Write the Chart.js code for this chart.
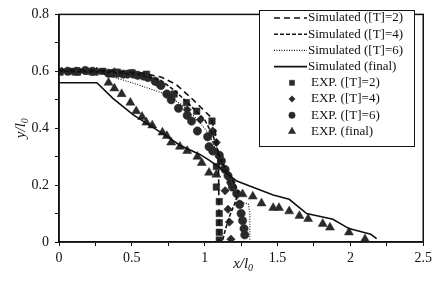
<html>
<head>
<meta charset="UTF-8">
<title>Profiles</title>
<script src="https://cdn.jsdelivr.net/npm/chart.js"></script>
<style>
  body { margin: 0; background: #fff; }
  #wrap { width: 436px; height: 284px; }
</style>
</head>
<body>
<div id="wrap"><canvas id="profileChart" width="436" height="284"></canvas></div>
<script>
// series, as [x/l0, y/l0]
const simT2 = [[0,0.605],[0.3,0.603],[0.55,0.595],[0.7,0.58],[0.8,0.555],[0.9,0.51],[0.98,0.47],[1.04,0.44],[1.07,0.39],[1.09,0.335],[1.095,0.27],[1.097,0.15],[1.1,0]];
const simT4 = [[0,0.6],[0.3,0.598],[0.55,0.588],[0.7,0.568],[0.8,0.53],[0.9,0.48],[1.0,0.43],[1.06,0.37],[1.09,0.32],[1.12,0.278],[1.16,0.244],[1.2,0.21],[1.23,0.176],[1.21,0.14],[1.17,0.09],[1.14,0.04],[1.12,0]];
const simT6 = [[0,0.6],[0.27,0.595],[0.5,0.56],[0.73,0.52],[0.85,0.48],[0.95,0.43],[1.03,0.38],[1.08,0.32],[1.13,0.26],[1.18,0.2],[1.22,0.155],[1.26,0.138],[1.3,0.134],[1.31,0.1],[1.31,0]];
const simFinal = [[0,0.56],[0.26,0.56],[0.37,0.505],[0.51,0.447],[0.69,0.388],[0.83,0.34],[0.97,0.307],[1.03,0.288],[1.1,0.262],[1.22,0.214],[1.47,0.165],[1.58,0.15],[1.7,0.1],[1.88,0.08],[1.99,0.047],[2.14,0.027],[2.18,0.012]];

const expT2 = [[0,0.6],[0.1,0.6],[0.2,0.6],[0.3,0.6],[0.4,0.597],[0.5,0.595],[0.6,0.59],[0.79,0.52],[0.875,0.49],[0.945,0.46],[1.05,0.425],[1.055,0.385],[1.08,0.265],[1.08,0.193],[1.1,0.142],[1.1,0.1],[1.1,0.068],[1.1,0.034],[1.1,0.007]];
const expT4 = [[0.02,0.6],[0.14,0.6],[0.26,0.6],[0.38,0.598],[0.5,0.593],[0.68,0.556],[0.78,0.515],[0.88,0.465],[0.97,0.43],[1.055,0.39],[1.08,0.35],[1.1,0.3],[1.13,0.26],[1.14,0.18],[1.16,0.115],[1.17,0.07],[1.18,0.01]];
const expT6 = [[0.06,0.6],[0.12,0.6],[0.18,0.603],[0.23,0.6],[0.34,0.593],[0.37,0.593],[0.4,0.593],[0.44,0.59],[0.47,0.59],[0.51,0.59],[0.54,0.586],[0.58,0.583],[0.61,0.578],[0.66,0.565],[0.7,0.55],[0.74,0.52],[0.77,0.5],[0.82,0.47],[0.88,0.445],[0.91,0.425],[0.95,0.39],[1.02,0.37],[1.03,0.335],[1.055,0.32],[1.1,0.305],[1.115,0.285],[1.14,0.255],[1.16,0.233],[1.18,0.21],[1.19,0.193],[1.22,0.17],[1.24,0.132],[1.25,0.1],[1.26,0.075],[1.27,0.047],[1.275,0.025]];
const expFinal = [[0,0.595],[0.12,0.595],[0.24,0.595],[0.34,0.56],[0.38,0.54],[0.43,0.52],[0.49,0.49],[0.53,0.46],[0.57,0.44],[0.6,0.42],[0.64,0.41],[0.71,0.385],[0.74,0.373],[0.77,0.35],[0.83,0.335],[0.88,0.32],[0.95,0.3],[0.98,0.278],[1.03,0.244],[1.08,0.237],[1.26,0.168],[1.33,0.16],[1.39,0.136],[1.47,0.12],[1.51,0.12],[1.58,0.108],[1.65,0.092],[1.71,0.081],[1.81,0.064],[1.86,0.051],[1.99,0.034],[2.1,0.01]];

const seriesNames = ['Simulated ([T]=2)','Simulated ([T]=4)','Simulated ([T]=6)','Simulated (final)','EXP. ([T]=2)','EXP. ([T]=4)','EXP. ([T]=6)','EXP. (final)'];
const xTickLabels = ['0','0.5','1','1.5','2','2.5'];
const yTickLabels = ['0','0.2','0.4','0.6','0.8'];

const ink = '#111111';
const mark = '#2a2a2a';
const serif = '"Liberation Serif", "Times New Roman", serif';

function pts(arr) { return arr.map(p => ({ x: p[0], y: p[1] })); }

function lineSet(label, arr, dash, width) {
    return { label: label, data: pts(arr), showLine: true, borderColor: ink, borderWidth: width,
             borderDash: dash, pointRadius: 0, fill: false, tension: 0 };
}
function pointSet(label, arr, style, r) {
    return { label: label, data: pts(arr), showLine: false, pointStyle: style, pointRadius: r,
             pointBackgroundColor: mark, pointBorderColor: mark, pointBorderWidth: 0.5 };
}

const datasets = [
    lineSet(seriesNames[0], simT2, [6, 4], 1.6),
    lineSet(seriesNames[1], simT4, [4, 2], 1.6),
    lineSet(seriesNames[2], simT6, [1, 1.5], 1.1),
    lineSet(seriesNames[3], simFinal, [], 1.6),
    pointSet(seriesNames[4], expT2, 'rect', 4.6),
    pointSet(seriesNames[5], expT4, 'rectRot', 4.2),
    pointSet(seriesNames[6], expT6, 'circle', 4.2),
    pointSet(seriesNames[7], expFinal, 'triangle', 5.2)
];

// frame, legend box and axis titles
const decor = {
    id: 'decor',
    afterDraw(chart) {
        const ctx = chart.ctx;
        const a = chart.chartArea;
        ctx.save();
        ctx.strokeStyle = ink;
        ctx.lineWidth = 1.5;
        ctx.strokeRect(a.left, a.top, a.right - a.left, a.bottom - a.top);

        // legend
        const bx = 259, by = 10, bw = 155, bh = 136;
        ctx.fillStyle = '#fff';
        ctx.fillRect(bx, by, bw, bh);
        ctx.lineWidth = 1;
        ctx.strokeStyle = ink;
        ctx.strokeRect(bx + 0.5, by + 0.5, bw, bh);
        ctx.font = '13px ' + serif;
        ctx.textBaseline = 'middle';
        chart.data.datasets.forEach((ds, i) => {
            const y = by + 8 + i * 16.2;
            if (ds.showLine) {
                ctx.beginPath();
                ctx.setLineDash(ds.borderDash);
                ctx.lineWidth = ds.borderWidth;
                ctx.strokeStyle = ink;
                ctx.moveTo(274, y);
                ctx.lineTo(307, y);
                ctx.stroke();
                ctx.setLineDash([]);
                ctx.fillStyle = ink;
                ctx.fillText(ds.label, 308, y);
            } else {
                ctx.fillStyle = mark;
                ctx.strokeStyle = mark;
                ctx.lineWidth = 0.5;
                Chart.helpers.drawPoint(ctx, { pointStyle: ds.pointStyle, radius: ds.pointRadius - 1, rotation: 0, borderWidth: 0.5 }, 292, y);
                ctx.fillStyle = ink;
                ctx.fillText(ds.label, 311, y);
            }
        });

        // axis titles with subscript
        ctx.fillStyle = ink;
        ctx.textBaseline = 'alphabetic';
        const cx = (a.left + a.right) / 2;
        ctx.font = 'italic 15px ' + serif;
        const w1 = ctx.measureText('x/l').width;
        ctx.font = 'italic 10px ' + serif;
        const w2 = ctx.measureText('0').width;
        let sx = cx - (w1 + w2) / 2 + 2;
        ctx.font = 'italic 15px ' + serif;
        ctx.fillText('x/l', sx, 268);
        ctx.font = 'italic 10px ' + serif;
        ctx.fillText('0', sx + w1, 271);

        ctx.translate(25, (a.top + a.bottom) / 2);
        ctx.rotate(-Math.PI / 2);
        ctx.font = 'italic 15px ' + serif;
        const h1 = ctx.measureText('y/l').width;
        ctx.font = 'italic 10px ' + serif;
        const h2 = ctx.measureText('0').width;
        sx = -(h1 + h2) / 2;
        ctx.font = 'italic 15px ' + serif;
        ctx.fillText('y/l', sx, 0);
        ctx.font = 'italic 10px ' + serif;
        ctx.fillText('0', sx + h1, 3);
        ctx.restore();
    }
};

const ctx = document.getElementById('profileChart').getContext('2d');
new Chart(ctx, {
    type: 'scatter',
    data: { datasets: datasets },
    options: {
        responsive: false,
        animation: false,
        layout: { padding: { top: 6, right: 12, left: 0, bottom: 0 } },
        plugins: { legend: { display: false }, tooltip: { enabled: false } },
        scales: {
            x: {
                type: 'linear', min: 0, max: 2.5,
                afterFit: s => { s.height = 42; },
                border: { color: ink, width: 1.5 },
                grid: { drawOnChartArea: false, color: ink, tickLength: 4, tickWidth: 1 },
                ticks: {
                    stepSize: 0.25, color: ink, padding: 4, maxRotation: 0, autoSkip: false,
                    font: { family: serif, size: 14 },
                    callback: v => {
                        const k = Math.round(v * 4);
                        return k % 2 === 0 ? xTickLabels[k / 2] : '';
                    }
                }
            },
            y: {
                type: 'linear', min: 0, max: 0.8,
                afterFit: s => { s.width = 59; },
                border: { color: ink, width: 1.5 },
                grid: { drawOnChartArea: false, color: ink, tickLength: 4, tickWidth: 1 },
                ticks: {
                    stepSize: 0.1, color: ink, padding: 6, autoSkip: false,
                    font: { family: serif, size: 14 },
                    callback: v => {
                        const k = Math.round(v * 10);
                        return k % 2 === 0 ? yTickLabels[k / 2] : '';
                    }
                }
            }
        }
    },
    plugins: [decor]
});
</script>
</body>
</html>
